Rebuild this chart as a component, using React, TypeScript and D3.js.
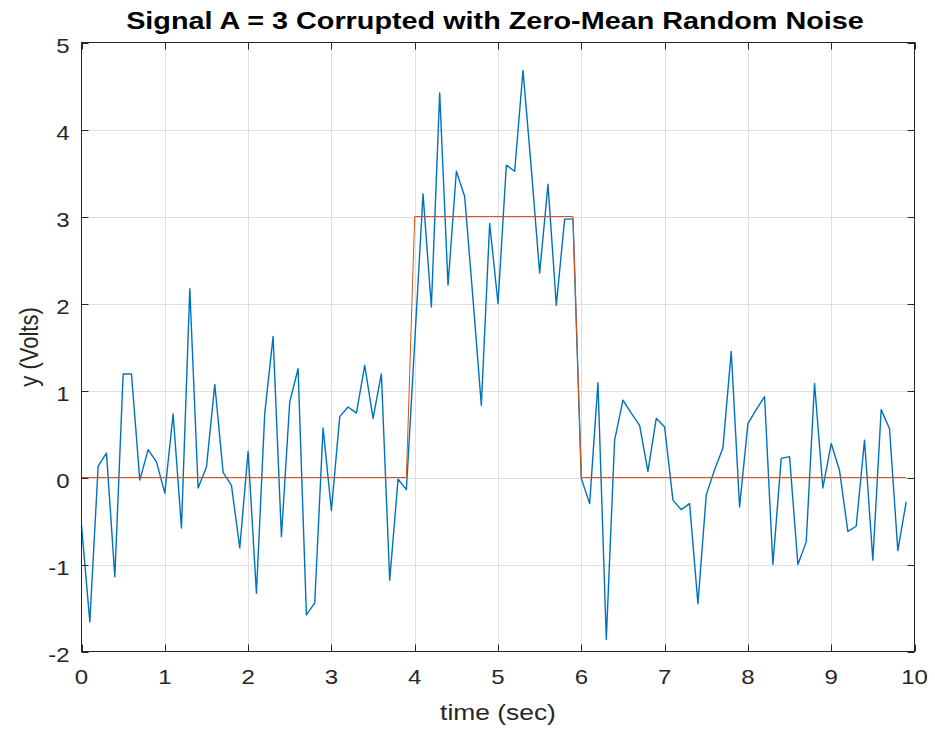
import React from "react";
import * as d3 from "d3";

// Sample times (s), t = 0:0.1:9.9
const sampleTimes = [
  0.0, 0.1, 0.2, 0.3, 0.4, 0.5, 0.6, 0.7, 0.8, 0.9,
  1.0, 1.1, 1.2, 1.3, 1.4, 1.5, 1.6, 1.7, 1.8, 1.9,
  2.0, 2.1, 2.2, 2.3, 2.4, 2.5, 2.6, 2.7, 2.8, 2.9,
  3.0, 3.1, 3.2, 3.3, 3.4, 3.5, 3.6, 3.7, 3.8, 3.9,
  4.0, 4.1, 4.2, 4.3, 4.4, 4.5, 4.6, 4.7, 4.8, 4.9,
  5.0, 5.1, 5.2, 5.3, 5.4, 5.5, 5.6, 5.7, 5.8, 5.9,
  6.0, 6.1, 6.2, 6.3, 6.4, 6.5, 6.6, 6.7, 6.8, 6.9,
  7.0, 7.1, 7.2, 7.3, 7.4, 7.5, 7.6, 7.7, 7.8, 7.9,
  8.0, 8.1, 8.2, 8.3, 8.4, 8.5, 8.6, 8.7, 8.8, 8.9,
  9.0, 9.1, 9.2, 9.3, 9.4, 9.5, 9.6, 9.7, 9.8, 9.9,
];

// Clean pulse, A = 3 between 4.0 s and 5.9 s
const cleanSignal = [
  0, 0, 0, 0, 0, 0, 0, 0, 0, 0,
  0, 0, 0, 0, 0, 0, 0, 0, 0, 0,
  0, 0, 0, 0, 0, 0, 0, 0, 0, 0,
  0, 0, 0, 0, 0, 0, 0, 0, 0, 0,
  3, 3, 3, 3, 3, 3, 3, 3, 3, 3,
  3, 3, 3, 3, 3, 3, 3, 3, 3, 3,
  0, 0, 0, 0, 0, 0, 0, 0, 0, 0,
  0, 0, 0, 0, 0, 0, 0, 0, 0, 0,
  0, 0, 0, 0, 0, 0, 0, 0, 0, 0,
  0, 0, 0, 0, 0, 0, 0, 0, 0, 0,
];

// Measured signal (pulse plus noise), volts
const noisySignal = [
  -0.55, -1.66, 0.13, 0.28, -1.14, 1.19, 1.19, -0.03, 0.32, 0.18,
  -0.18, 0.73, -0.58, 2.17, -0.12, 0.12, 1.07, 0.06, -0.09, -0.81,
  0.30, -1.33, 0.74, 1.62, -0.68, 0.87, 1.25, -1.58, -1.44, 0.57,
  -0.38, 0.70, 0.81, 0.74, 1.29, 0.68, 1.19, -1.18, -0.02, -0.14,
  1.55, 3.26, 1.96, 4.42, 2.21, 3.52, 3.23, 2.05, 0.83, 2.92,
  2.00, 3.59, 3.52, 4.68, 3.55, 2.35, 3.37, 1.98, 2.97, 2.97,
  -0.01, -0.30, 1.09, -1.86, 0.43, 0.89, 0.74, 0.60, 0.07, 0.68,
  0.58, -0.26, -0.37, -0.30, -1.45, -0.20, 0.09, 0.34, 1.45, -0.34,
  0.62, 0.78, 0.93, -1.00, 0.22, 0.24, -1.00, -0.74, 1.08, -0.12,
  0.39, 0.08, -0.62, -0.56, 0.43, -0.95, 0.78, 0.56, -0.84, -0.28,
];

const xTicks = [0, 1, 2, 3, 4, 5, 6, 7, 8, 9, 10];
const yTicks = [-2, -1, 0, 1, 2, 3, 4, 5];

const titleText = "Signal A = 3 Corrupted with Zero-Mean Random Noise";
const xLabelText = "time (sec)";
const yLabelText = "y (Volts)";

const W = 935;
const H = 729;
const left = 81.5;
const right = 914.5;
const top = 42.5;
const bottom = 651.5;
const tickLen = 7;
const stretch = 1.2;
const axisColor = "#262626";
const gridColor = "#dfdfdf";
const font = "'Liberation Sans', Arial, Helvetica, sans-serif";

export default function App() {
  const x = d3.scaleLinear().domain([0, 10]).range([left, right]);
  const y = d3.scaleLinear().domain([-2, 5]).range([bottom, top]);

  const noisyPath = d3
    .line<number>()
    .x((_, i) => x(sampleTimes[i]))
    .y((d) => y(d))(noisySignal) as string;

  const cleanPath = d3
    .line<number>()
    .x((_, i) => x(sampleTimes[i]))
    .y((d) => y(d))(cleanSignal) as string;

  return (
    <svg
      width={W}
      height={H}
      viewBox={`0 0 ${W} ${H}`}
      style={{ position: "absolute", left: 0, top: 0, background: "#ffffff" }}
    >
      <rect x={0} y={0} width={W} height={H} fill="#ffffff" />

      {/* grid */}
      <g stroke={gridColor} strokeWidth={1}>
        {xTicks.slice(1, -1).map((t) => (
          <line key={`gx${t}`} x1={Math.round(x(t)) + 0.5} x2={Math.round(x(t)) + 0.5} y1={top} y2={bottom} />
        ))}
        {yTicks.slice(1, -1).map((t) => (
          <line key={`gy${t}`} x1={left} x2={right} y1={Math.round(y(t)) + 0.5} y2={Math.round(y(t)) + 0.5} />
        ))}
      </g>

      {/* data */}
      <path d={noisyPath} fill="none" stroke="#0072BD" strokeWidth={1.4} strokeLinejoin="round" />
      <path d={cleanPath} fill="none" stroke="#D95319" strokeWidth={1} strokeLinejoin="round" />

      {/* axes box and ticks */}
      <g stroke={axisColor} strokeWidth={1} fill="none">
        <rect x={left} y={top} width={right - left} height={bottom - top} />
        {xTicks.map((t) => {
          const px = Math.round(x(t)) + 0.5;
          return (
            <g key={`tx${t}`}>
              <line x1={px} x2={px} y1={bottom} y2={bottom - tickLen} />
              <line x1={px} x2={px} y1={top} y2={top + tickLen} />
            </g>
          );
        })}
        {yTicks.map((t) => {
          const py = Math.round(y(t)) + 0.5;
          return (
            <g key={`ty${t}`}>
              <line x1={left} x2={left + tickLen} y1={py} y2={py} />
              <line x1={right} x2={right - tickLen} y1={py} y2={py} />
            </g>
          );
        })}
      </g>

      {/* tick labels */}
      <g fill={axisColor} fontFamily={font} fontSize={20}>
        {xTicks.map((t) => (
          <text
            key={`lx${t}`}
            transform={`translate(${x(t)},${bottom + 32}) scale(${stretch},1)`}
            textAnchor="middle"
          >
            {String(t)}
          </text>
        ))}
        {yTicks.map((t) => (
          <text
            key={`ly${t}`}
            transform={`translate(${left - 12},${y(t) + 10}) scale(${stretch},1)`}
            textAnchor="end"
          >
            {String(t)}
          </text>
        ))}
      </g>

      {/* axis labels */}
      <text
        transform={`translate(${(left + right) / 2},${720}) scale(${stretch},1)`}
        textAnchor="middle"
        fontFamily={font}
        fontSize={22}
        fill={axisColor}
      >
        {xLabelText}
      </text>
      <text
        transform={`translate(${38},${(top + bottom) / 2}) scale(${stretch},1) rotate(-90)`}
        textAnchor="middle"
        fontFamily={font}
        fontSize={22}
        fill={axisColor}
      >
        {yLabelText}
      </text>

      {/* title */}
      <text
        transform={`translate(${(left + right) / 2 - 3},${29}) scale(${stretch},1)`}
        textAnchor="middle"
        fontFamily={font}
        fontSize={24}
        fontWeight="bold"
        fill="#000000"
      >
        {titleText}
      </text>
    </svg>
  );
}
